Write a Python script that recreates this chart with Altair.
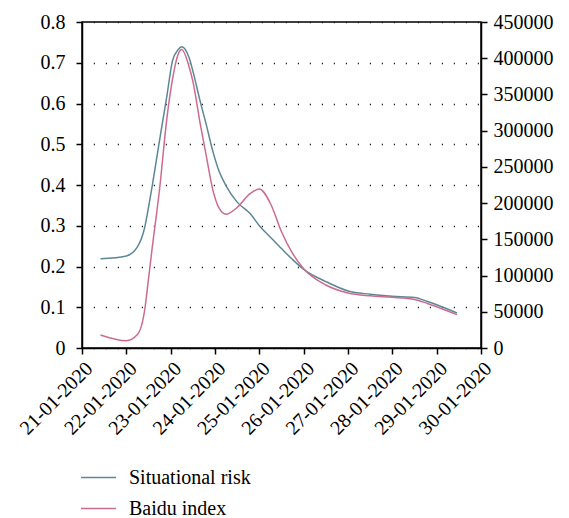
import altair as alt
import pandas as pd

# Time of each reading (UTC)
times = [
    "2020-01-21T10:00:00Z", "2020-01-22T00:00:00Z", "2020-01-22T06:00:00Z",
    "2020-01-22T10:00:00Z", "2020-01-22T12:00:00Z", "2020-01-22T14:00:00Z",
    "2020-01-22T18:00:00Z", "2020-01-22T22:00:00Z", "2020-01-23T01:00:00Z",
    "2020-01-23T04:00:00Z", "2020-01-23T06:00:00Z", "2020-01-23T10:00:00Z",
    "2020-01-23T12:00:00Z", "2020-01-23T16:00:00Z", "2020-01-23T19:00:00Z",
    "2020-01-23T23:00:00Z", "2020-01-24T02:00:00Z", "2020-01-24T06:00:00Z",
    "2020-01-24T12:00:00Z", "2020-01-24T19:00:00Z", "2020-01-25T00:00:00Z",
    "2020-01-25T06:00:00Z", "2020-01-25T12:00:00Z", "2020-01-25T18:00:00Z",
    "2020-01-26T00:00:00Z", "2020-01-26T12:00:00Z", "2020-01-27T00:00:00Z",
    "2020-01-27T12:00:00Z", "2020-01-28T00:00:00Z", "2020-01-28T12:00:00Z",
    "2020-01-28T19:00:00Z", "2020-01-29T00:00:00Z", "2020-01-29T11:00:00Z",
]

situational_risk = [
    0.219, 0.226, 0.248, 0.297, 0.345, 0.397, 0.510, 0.620, 0.705,
    0.732, 0.739, 0.712, 0.680, 0.605, 0.553, 0.480, 0.436, 0.398,
    0.358, 0.330, 0.300, 0.272, 0.244, 0.217, 0.193, 0.163, 0.140,
    0.132, 0.127, 0.124, 0.114, 0.106, 0.086,
]

baidu_index = [
    18000, 10000, 18500, 53500, 95500, 138000, 219500, 318000, 371000,
    405000, 412000, 388000, 368500, 309500, 269000, 216500, 194000, 184500,
    194000, 213000, 219500, 199500, 160500, 130500, 109500, 87000, 76000,
    72000, 70000, 67000, 61500, 57000, 46000,
]

series_names = ["Situational risk", "Baidu index"]
series_colors = ["#5d8798", "#cc6b8e"]

tick_days = list(range(21, 31))
left_ticks = [0, 0.1, 0.2, 0.3, 0.4, 0.5, 0.6, 0.7, 0.8]
right_ticks = [0, 50000, 100000, 150000, 200000, 250000, 300000, 350000, 400000, 450000]

df = pd.DataFrame({"time": times, "risk": situational_risk, "baidu": baidu_index})

FONT = "Liberation Serif"
FS = 20

x_enc = alt.X(
    "time:T",
    scale=alt.Scale(
        type="utc",
        domain=[alt.DateTime(year=2020, month=1, date=21, utc=True),
                alt.DateTime(year=2020, month=1, date=30, utc=True)],
    ),
    axis=alt.Axis(
        title=None,
        values=[alt.DateTime(year=2020, month=1, date=d, utc=True) for d in tick_days],
        labelExpr="utcFormat(datum.value, '%d-%m-%Y')",
        labelAngle=315,
        labelOverlap=False,
        labelFlush=False,
        labelBound=False,
        grid=False,
        labelPadding=4,
    ),
)

color_scale = alt.Scale(domain=series_names, range=series_colors)
legend = alt.Legend(
    title=None,
    orient="none",
    legendX=-2,
    legendY=437,
    direction="vertical",
    symbolType="stroke",
    symbolSize=1225,
    symbolStrokeWidth=1.5,
    labelFont=FONT,
    labelFontSize=FS,
    labelColor="black",
    labelOffset=12,
    rowPadding=2,
)

risk_line = alt.Chart(df).transform_calculate(
    series="'%s'" % series_names[0]
).mark_line(interpolate="monotone", strokeWidth=1.5).encode(
    x=x_enc,
    y=alt.Y(
        "risk:Q",
        scale=alt.Scale(domain=[0, 0.8], nice=False),
        axis=alt.Axis(
            orient="left", title=None, values=left_ticks, format=".1~f",
            grid=True, gridDash=[1.2, 10.8], gridDashOffset=-11.3,
            gridColor="#222", gridWidth=1.3, labelPadding=11,
        ),
    ),
    color=alt.Color("series:N", scale=color_scale, legend=legend),
)

baidu_line = alt.Chart(df).transform_calculate(
    series="'%s'" % series_names[1]
).mark_line(interpolate="monotone", strokeWidth=1.5).encode(
    x=x_enc,
    y=alt.Y(
        "baidu:Q",
        scale=alt.Scale(domain=[0, 450000], nice=False),
        axis=alt.Axis(
            orient="right", title=None, values=right_ticks, format="d",
            grid=False, labelPadding=6,
        ),
    ),
    color=alt.Color("series:N", scale=color_scale, legend=legend),
)

chart = (
    alt.layer(risk_line, baidu_line)
    .resolve_scale(y="independent")
    .properties(width=399, height=326,
                autosize=alt.AutoSizeParams(type="none"),
                padding={"left": 74, "top": 14, "right": 80, "bottom": 170})
    .configure_view(stroke="black", strokeWidth=1.5)
    .configure_axis(
        domainColor="black", domainWidth=1.5, tickColor="black", tickWidth=1.5,
        tickSize=6, labelFont=FONT, labelFontSize=FS, labelColor="black",
    )
)

chart.save("out.html", embed_options={"renderer": "svg", "actions": False})
